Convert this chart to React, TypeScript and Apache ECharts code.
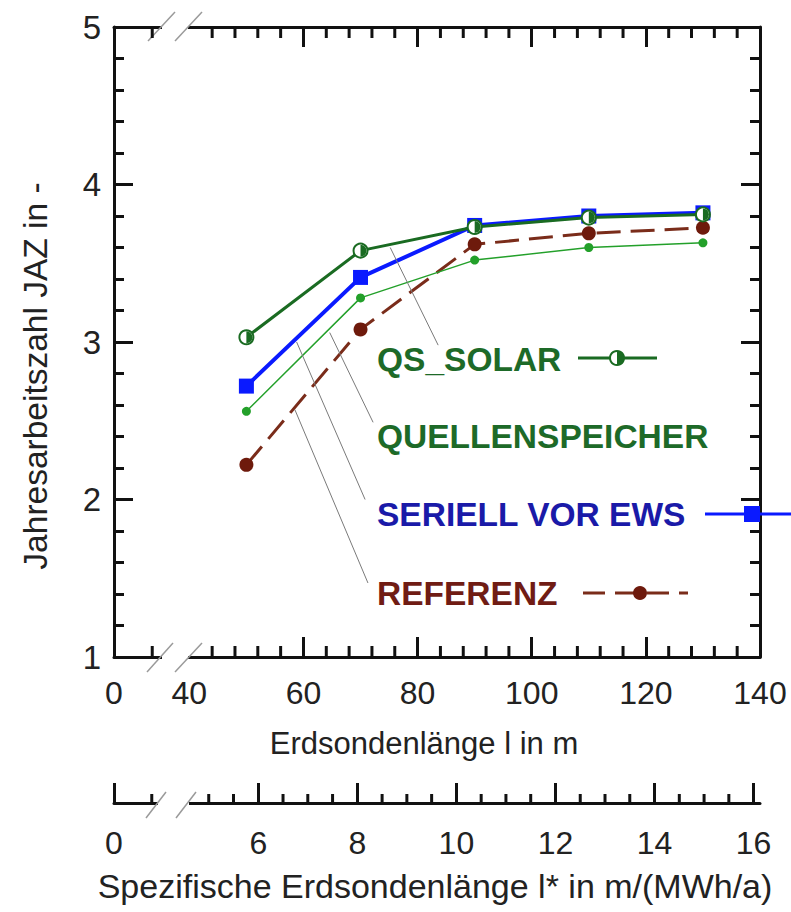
import React, { useEffect, useRef } from "react";
import * as echarts from "echarts";

// ---- data ----
const lengths = [50, 70, 90, 110, 130];
const qsSolar = [3.03, 3.58, 3.73, 3.79, 3.81];
const quellenspeicher = [2.56, 3.28, 3.52, 3.6, 3.63];
const seriell = [2.72, 3.41, 3.74, 3.8, 3.82];
const referenz = [2.22, 3.08, 3.62, 3.69, 3.725];

// ---- axes ----
const xMin = 26.8; // left edge, shown as "0" (broken axis)
const xMax = 140;
const xLabelValues = [40, 60, 80, 100, 120, 140];
const xMajorTicks = [60, 80, 100, 120, 140];
const xMinorTicks = [33.5, 44, 48, 52, 56, 64, 68, 72, 76, 84, 88, 92, 96, 104, 108, 112, 116, 124, 128, 132, 136];
const specQ = 8.68; // l* = l / Q  (MWh/a)
const sLabelValues = [6, 8, 10, 12, 14, 16];
const sMinorTicks = [3.85, 5, 5.5, 6.5, 7, 7.5, 8.5, 9, 9.5, 10.5, 11, 11.5, 12.5, 13, 13.5, 14.5, 15, 15.5];
const yMin = 1;
const yMax = 5;

// leader lines [x1, y1, x2, y2] in data coordinates
const leaderQsSolar = [75.2, 3.6, 83.6, 2.98];
const leaderQuellen = [64.6, 3.06, 72.2, 2.49];
const leaderSeriell = [58.8, 3.0, 70.8, 2.0];
const leaderReferenz = [58.5, 2.57, 71.3, 1.47];

const FONT = "'Liberation Sans', Arial, sans-serif";
const INK = "#111";
const C_QS = "#1a6b22";
const C_QS_TXT = "#1d6a28";
const C_QU = "#23a02a";
const C_SE = "#0a1aff";
const C_SE_TXT = "#1a1aa8";
const C_RE = "#6e1a0c";
const C_RE_LINE = "#7a2c1a";
const C_RE_TXT = "#701c14";

const GRID_L = 114, GRID_R = 760, GRID_T = 27, GRID_B = 657, SPEC_Y = 803;

const pairs = (vals: number[]) => lengths.map((l, i) => [l, vals[i]]);
const leader = (c: number[]) => ({
  silent: true,
  symbol: ["none", "none"],
  label: { show: false },
  lineStyle: { color: "#7a7a7a", width: 1, type: "solid" },
  data: [[{ coord: [c[0], c[1]] }, { coord: [c[2], c[3]] }]],
});

function xAxisMain(position: string, labels: boolean) {
  return {
    type: "value",
    gridIndex: 0,
    position,
    min: xMin,
    max: xMax,
    axisLine: { show: true, onZero: false, lineStyle: { color: INK, width: 3 } },
    axisTick: { show: true, inside: true, length: 20, lineStyle: { color: INK, width: 3 }, customValues: xMajorTicks },
    axisLabel: {
      show: labels,
      customValues: [xMin, ...xLabelValues],
      formatter: (v: number) => (v < 40 ? "0" : String(v)),
      fontSize: 32,
      fontFamily: FONT,
      color: "#222",
      margin: 20,
    },
    splitLine: { show: false },
  };
}
function yAxisMain(position: string, labels: boolean) {
  return {
    type: "value",
    gridIndex: 0,
    position,
    min: yMin,
    max: yMax,
    interval: 1,
    axisLine: { show: true, onZero: false, lineStyle: { color: INK, width: 3 } },
    axisTick: { show: true, inside: true, length: 19, lineStyle: { color: INK, width: 3 } },
    minorTick: { show: true, splitNumber: 5, length: 10, lineStyle: { color: INK, width: 3 } },
    axisLabel: { show: labels, fontSize: 33, fontFamily: FONT, color: "#222", margin: 13 },
    splitLine: { show: false },
    minorSplitLine: { show: false },
  };
}

const staticGraphic: any[] = [
  // axis breaks
  { type: "rect", z: 100, shape: { x: 162, y: 22, width: 26, height: 11 }, style: { fill: "#fff" } },
  { type: "rect", z: 100, shape: { x: 162, y: 651, width: 26, height: 12 }, style: { fill: "#fff" } },
  { type: "rect", z: 100, shape: { x: 158, y: 797, width: 31, height: 12 }, style: { fill: "#fff" } },
  { type: "line", z: 101, shape: { x1: 148, y1: 41, x2: 175, y2: 12 }, style: { stroke: "#9a9a9a", lineWidth: 1.5 } },
  { type: "line", z: 101, shape: { x1: 175, y1: 41, x2: 202, y2: 12 }, style: { stroke: "#9a9a9a", lineWidth: 1.5 } },
  { type: "line", z: 101, shape: { x1: 147, y1: 672, x2: 173, y2: 643 }, style: { stroke: "#9a9a9a", lineWidth: 1.5 } },
  { type: "line", z: 101, shape: { x1: 175, y1: 672, x2: 202, y2: 643 }, style: { stroke: "#9a9a9a", lineWidth: 1.5 } },
  { type: "line", z: 101, shape: { x1: 146, y1: 818, x2: 166, y2: 792 }, style: { stroke: "#9a9a9a", lineWidth: 1.5 } },
  { type: "line", z: 101, shape: { x1: 176, y1: 818, x2: 196, y2: 792 }, style: { stroke: "#9a9a9a", lineWidth: 1.5 } },
  // axis titles
  {
    type: "text", z: 100, x: 35, y: 376, rotation: Math.PI / 2,
    style: { text: "Jahresarbeitszahl JAZ in -", fontSize: 33.5, fontFamily: FONT, fill: "#222", align: "center", verticalAlign: "middle" },
  },
  {
    type: "text", z: 100, x: 424, y: 743,
    style: { text: "Erdsondenlänge l in m", fontSize: 31, fontFamily: FONT, fill: "#222", align: "center", verticalAlign: "middle" },
  },
  {
    type: "text", z: 100, x: 435, y: 886,
    style: { text: "Spezifische Erdsondenlänge l* in m/(MWh/a)", fontSize: 34, fontFamily: FONT, fill: "#222", align: "center", verticalAlign: "middle" },
  },
  // series labels
  { type: "text", z: 100, x: 377, y: 359, style: { text: "QS_SOLAR", fontSize: 33.5, fontWeight: "bold", fontFamily: FONT, fill: C_QS_TXT, align: "left", verticalAlign: "middle" } },
  { type: "text", z: 100, x: 377, y: 436, style: { text: "QUELLENSPEICHER", fontSize: 33.5, fontWeight: "bold", fontFamily: FONT, fill: C_QS_TXT, align: "left", verticalAlign: "middle" } },
  { type: "text", z: 100, x: 377, y: 514, style: { text: "SERIELL VOR EWS", fontSize: 33.5, fontWeight: "bold", fontFamily: FONT, fill: C_SE_TXT, align: "left", verticalAlign: "middle" } },
  { type: "text", z: 100, x: 377, y: 593, style: { text: "REFERENZ", fontSize: 33.5, fontWeight: "bold", fontFamily: FONT, fill: C_RE_TXT, align: "left", verticalAlign: "middle" } },
  // legend samples
  { type: "line", z: 100, shape: { x1: 578, y1: 358, x2: 657, y2: 358 }, style: { stroke: C_QS, lineWidth: 3 } },
  { type: "circle", z: 101, shape: { cx: 617, cy: 358, r: 7 }, style: { fill: "#fff", stroke: C_QS, lineWidth: 2 } },
  { type: "sector", z: 102, shape: { cx: 617, cy: 358, r: 7, r0: 0, startAngle: -Math.PI / 2, endAngle: Math.PI / 2 }, style: { fill: C_QS } },
  { type: "line", z: 100, shape: { x1: 705, y1: 514, x2: 791, y2: 514 }, style: { stroke: C_SE, lineWidth: 3 } },
  { type: "rect", z: 101, shape: { x: 744, y: 506, width: 16, height: 16 }, style: { fill: C_SE } },
  { type: "line", z: 100, shape: { x1: 583, y1: 593, x2: 688, y2: 593 }, style: { stroke: C_RE_LINE, lineWidth: 3, lineDash: [22, 10] } },
  { type: "circle", z: 101, shape: { cx: 640, cy: 593, r: 7 }, style: { fill: C_RE } },
];

export default function App() {
  const ref = useRef<HTMLDivElement>(null);
  useEffect(() => {
    if (!ref.current) return;
    const chart = echarts.init(ref.current, null, { renderer: "svg" });
    const sMin = xMin / specQ;
    const sMax = xMax / specQ;
    const option: any = {
      animation: false,
      backgroundColor: "#fff",
      grid: [
        { left: GRID_L, right: 791 - GRID_R, top: GRID_T, bottom: 912 - GRID_B },
        { left: GRID_L, right: 791 - GRID_R, top: 700, bottom: 912 - SPEC_Y },
      ],
      xAxis: [
        xAxisMain("bottom", true),
        xAxisMain("top", false),
        {
          type: "value",
          gridIndex: 1,
          position: "bottom",
          min: sMin,
          max: sMax,
          axisLine: { show: true, onZero: false, lineStyle: { color: INK, width: 3 } },
          axisTick: { show: true, inside: true, length: 20, lineStyle: { color: INK, width: 3 }, customValues: [sMin, ...sLabelValues] },
          axisLabel: {
            show: true,
            customValues: [sMin, ...sLabelValues],
            formatter: (v: number) => (v < 5 ? "0" : String(v)),
            fontSize: 32,
            fontFamily: FONT,
            color: "#222",
            margin: 24,
          },
          splitLine: { show: false },
        },
      ],
      yAxis: [
        yAxisMain("left", true),
        yAxisMain("right", false),
        { type: "value", gridIndex: 1, show: false, min: 0, max: 1 },
      ],
      series: [
        {
          name: "REFERENZ",
          type: "line",
          xAxisIndex: 0,
          yAxisIndex: 0,
          data: pairs(referenz),
          symbol: "circle",
          symbolSize: 14,
          showAllSymbol: true,
          itemStyle: { color: C_RE },
          lineStyle: { color: C_RE_LINE, width: 3, type: [24, 10] },
          markLine: leader(leaderReferenz),
          z: 2,
        },
        {
          name: "QUELLENSPEICHER",
          type: "line",
          xAxisIndex: 0,
          yAxisIndex: 0,
          data: pairs(quellenspeicher),
          symbol: "circle",
          symbolSize: 9,
          showAllSymbol: true,
          itemStyle: { color: C_QU },
          lineStyle: { color: C_QU, width: 1.5 },
          markLine: leader(leaderQuellen),
          z: 3,
        },
        {
          name: "SERIELL VOR EWS",
          type: "line",
          xAxisIndex: 0,
          yAxisIndex: 0,
          data: pairs(seriell),
          symbol: "rect",
          symbolSize: 15,
          showAllSymbol: true,
          itemStyle: { color: C_SE },
          lineStyle: { color: C_SE, width: 4 },
          markLine: leader(leaderSeriell),
          z: 4,
        },
        {
          name: "QS_SOLAR",
          type: "line",
          xAxisIndex: 0,
          yAxisIndex: 0,
          data: pairs(qsSolar),
          symbol: "circle",
          symbolSize: 14,
          showAllSymbol: true,
          itemStyle: { color: "#fff", borderColor: C_QS, borderWidth: 2 },
          lineStyle: { color: C_QS, width: 3 },
          markLine: leader(leaderQsSolar),
          z: 5,
        },
        {
          name: "QS_SOLAR (Halbmarker)",
          type: "line",
          xAxisIndex: 0,
          yAxisIndex: 0,
          data: pairs(qsSolar),
          symbol: "path://M0,0 A1,1 0 0 1 0,2 Z",
          symbolSize: [6, 12],
          symbolOffset: [3, 0],
          showAllSymbol: true,
          itemStyle: { color: C_QS },
          lineStyle: { opacity: 0, width: 0 },
          z: 6,
        },
      ],
    };
    chart.setOption(option);

    // minor ticks of the x axes: positions taken from the axis scales
    const toPx = (finder: any, v: number, y: number, fbX: number, fbY: number) => {
      let p: any = null;
      try {
        p = chart.convertToPixel(finder, [v, y]);
      } catch (e) {
        p = null;
      }
      if (!p || !isFinite(p[0]) || !isFinite(p[1])) return [fbX, fbY];
      return p as number[];
    };
    const tickLines: any[] = [];
    xMinorTicks.forEach((v) => {
      const fx = GRID_L + ((v - xMin) / (xMax - xMin)) * (GRID_R - GRID_L);
      const pb = toPx({ xAxisIndex: 0, yAxisIndex: 0 }, v, yMin, fx, GRID_B);
      const pt = toPx({ xAxisIndex: 0, yAxisIndex: 0 }, v, yMax, fx, GRID_T);
      tickLines.push({ type: "line", z: 120, shape: { x1: pb[0], y1: pb[1], x2: pb[0], y2: pb[1] - 11 }, style: { stroke: INK, lineWidth: 3 } });
      tickLines.push({ type: "line", z: 120, shape: { x1: pt[0], y1: pt[1], x2: pt[0], y2: pt[1] + 11 }, style: { stroke: INK, lineWidth: 3 } });
    });
    sMinorTicks.forEach((v) => {
      const fx = GRID_L + ((v - sMin) / (sMax - sMin)) * (GRID_R - GRID_L);
      const p = toPx({ xAxisIndex: 2, yAxisIndex: 2 }, v, 0, fx, SPEC_Y);
      tickLines.push({ type: "line", z: 120, shape: { x1: p[0], y1: p[1], x2: p[0], y2: p[1] - 9 }, style: { stroke: INK, lineWidth: 3 } });
    });
    chart.setOption({ graphic: [...staticGraphic, ...tickLines] });

    return () => chart.dispose();
  }, []);
  return (
    <div
      ref={ref}
      style={{ position: "absolute", left: 0, top: 0, width: 791, height: 912, background: "#fff" }}
    />
  );
}
